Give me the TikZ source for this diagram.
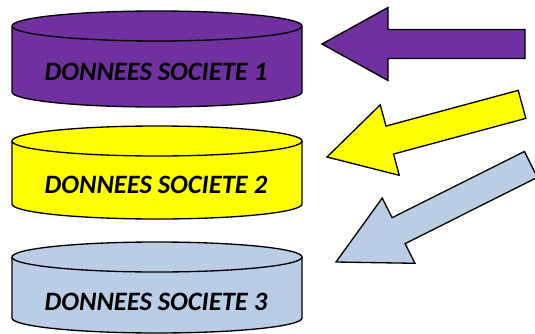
\documentclass[tikz,border=0pt]{standalone}
\usepackage{fontspec}
\setmainfont{Carlito}
\usepackage{tikz}
\usetikzlibrary{positioning}
\definecolor{violetsoc}{HTML}{7030A0}
\definecolor{jaunesoc}{HTML}{FFFF00}
\definecolor{bleusoc}{HTML}{B9CDE5}
\tikzset{
base/.style={draw=black, line width=1pt, line join=miter}, % contour of every shape
societe/.style={font=\fontsize{19.9}{22}\selectfont\bfseries\itshape, inner sep=0pt}, % labels in the disks
pics/blockarrow/.style 2 args={ % big arrow, tip at the origin, length #1, head length #2
  code={
    \filldraw[base] (0,0) -- (#2,36.5) -- (#2,14.5) -- (#1,14.5) -- (#1,-14.5) -- (#2,-14.5) -- (#2,-36.5) -- cycle;
  }
},
}

\begin{document}
\begin{tikzpicture}[x=0.75pt, y=0.75pt]
        \useasboundingbox (0,0) rectangle (535,333);
        \clip (0,0) rectangle (535,333);
        % the three disks: colour / top y / bottom y
        \foreach \col/\ytop/\ybot in {violetsoc/307/241, jaunesoc/192/129, bleusoc/76/15} {
            \filldraw[base, fill=\col] (12,\ytop) -- (12,\ybot) arc[start angle=180, end angle=360, x radius=145, y radius=15]
                -- (302,\ytop) arc[start angle=0, end angle=180, x radius=145, y radius=15] -- cycle;
            \draw[base] (12,\ytop) arc[start angle=180, end angle=360, x radius=145, y radius=15];
        }
        \node[societe] at (156,261) (soc1) {DONNEES SOCIETE 1};
        \node[societe] at (156,148) (soc2) {DONNEES SOCIETE 2};
        \node[societe] at (156,31) (soc3) {DONNEES SOCIETE 3};
        % arrows
        \pic[fill=violetsoc] at (322,289) {blockarrow={203}{66}};
        \pic[fill=jaunesoc, rotate=15.1] at (327,176) {blockarrow={202}{65}};
        \pic[fill=bleusoc, rotate=26.6] at (336,71) {blockarrow={218}{70}};
    \end{tikzpicture}
\end{document}
